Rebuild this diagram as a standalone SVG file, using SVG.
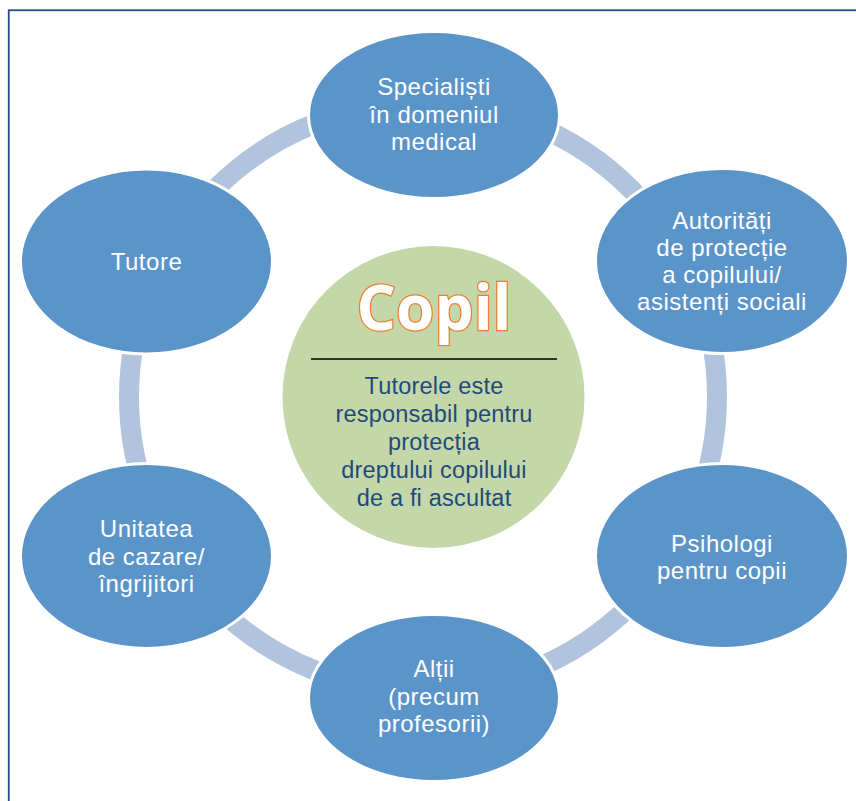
<svg xmlns="http://www.w3.org/2000/svg" width="856" height="801" viewBox="0 0 856 801">
  <style>
    .node { fill: #5b94c8; stroke: #ffffff; stroke-width: 3; }
    .lbl { font-family: "Liberation Sans", Arial, sans-serif; font-size: 24px; letter-spacing: 0.5px; fill: #ffffff; text-anchor: middle; }
    .ctr { font-family: "Liberation Sans", Arial, sans-serif; font-size: 23.5px; letter-spacing: 0.2px; fill: #1f4a7c; text-anchor: middle; }
    .copil { font-family: "Open Sans", "Liberation Sans", sans-serif; font-weight: bold; font-size: 62px; fill: #ffffff; stroke: #ee7d31; stroke-width: 2.5; paint-order: stroke; text-anchor: middle; }
  </style>
  <rect x="0" y="0" width="856" height="801" fill="#ffffff"/>
  <rect id="frame" x="8.75" y="10.25" width="900" height="900" fill="none" stroke="#234b86" stroke-width="1.8"/>

  <g id="connectors">
    <circle cx="423" cy="397" r="294" fill="none" stroke="#b0c4de" stroke-width="20"/>
  </g>

  <g id="center">
    <circle cx="433.5" cy="397" r="151" fill="#c3d7a9"/>
    <text class="copil" x="434" y="330">Copil</text>
    <line x1="311" y1="359" x2="557" y2="359" stroke="#000000" stroke-width="1.5"/>
    <text class="ctr" x="434" y="394">Tutorele este<tspan x="434" dy="28">responsabil pentru</tspan><tspan x="434" dy="28">protecția</tspan><tspan x="434" dy="28">dreptului copilului</tspan><tspan x="434" dy="27.5">de a fi ascultat</tspan></text>
  </g>

  <g id="n1">
    <ellipse class="node" cx="434" cy="115" rx="125.5" ry="83.5"/>
    <text class="lbl" x="434" y="95">Specialiști<tspan x="434" dy="27.5">în domeniul</tspan><tspan x="434" dy="27.5">medical</tspan></text>
  </g>
  <g id="n2">
    <ellipse class="node" cx="722" cy="261" rx="126.5" ry="92.5"/>
    <text class="lbl" x="722" y="229">Autorități<tspan x="722" dy="27">de protecție</tspan><tspan x="722" dy="27">a copilului/</tspan><tspan x="722" dy="27">asistenți sociali</tspan></text>
  </g>
  <g id="n3">
    <ellipse class="node" cx="722" cy="556" rx="126.5" ry="92.5"/>
    <text class="lbl" x="722" y="551.5">Psihologi<tspan x="722" dy="27">pentru copii</tspan></text>
  </g>
  <g id="n4">
    <ellipse class="node" cx="434" cy="698" rx="125.5" ry="83.5"/>
    <text class="lbl" x="434" y="677">Alții<tspan x="434" dy="27.5">(precum</tspan><tspan x="434" dy="27.5">profesorii)</tspan></text>
  </g>
  <g id="n5">
    <ellipse class="node" cx="146.5" cy="556" rx="126" ry="92.5"/>
    <text class="lbl" x="146.5" y="537">Unitatea<tspan x="146.5" dy="27.5">de cazare/</tspan><tspan x="146.5" dy="27.5">îngrijitori</tspan></text>
  </g>
  <g id="n6">
    <ellipse class="node" cx="146.5" cy="261.5" rx="126" ry="92.5"/>
    <text class="lbl" x="146.5" y="269.5">Tutore</text>
  </g>
</svg>
